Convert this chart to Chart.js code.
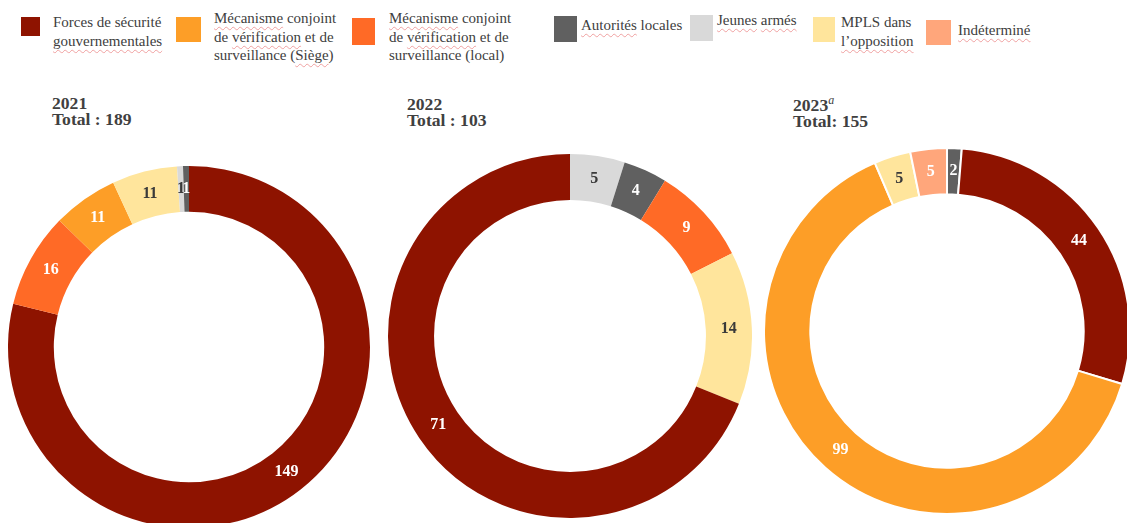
<!DOCTYPE html>
<html lang="fr">
<head>
<meta charset="utf-8">
<script src="https://cdn.jsdelivr.net/npm/chart.js@4.4.1/dist/chart.umd.min.js"></script>
<style>
    html, body { margin: 0; padding: 0; background: #fff; }
    body { width: 1127px; height: 523px; overflow: hidden; position: relative; font-family: "Liberation Serif", "Times New Roman", serif; color: #404040; }
    .swatch { position: absolute; }
    .ltext { position: absolute; font-size: 15px; line-height: 18.5px; white-space: nowrap; color: #404040; }
    .sp { text-decoration: underline wavy rgba(230, 95, 95, 0.55); text-decoration-thickness: 1px; text-underline-offset: 3px; text-decoration-skip-ink: none; }
    .title { position: absolute; font-size: 17.6px; font-weight: bold; line-height: 16px; color: #404040; }
    .title sup { font-style: italic; font-weight: normal; font-size: 12px; line-height: 0; }
    canvas { position: absolute; }
</style>
</head>
<body>

<div class="swatch" style="left:21px;top:17px;width:19px;height:19px;background:#8E1300"></div>
<div class="ltext" style="left:53px;top:13px">Forces de sécurité<br><span class="sp">gouvernementales</span></div>

<div class="swatch" style="left:176px;top:17px;width:25px;height:25px;background:#FD9E27"></div>
<div class="ltext" style="left:214px;top:9px"><span class="sp">Mécanisme</span> conjoint<br>de <span class="sp">vérification</span> et de<br>surveillance (<span class="sp">Siège</span>)</div>

<div class="swatch" style="left:352px;top:18px;width:23px;height:27px;background:#FF6A26"></div>
<div class="ltext" style="left:389px;top:9px"><span class="sp">Mécanisme</span> conjoint<br>de <span class="sp">vérification</span> et de<br>surveillance (local)</div>

<div class="swatch" style="left:554px;top:16px;width:23px;height:26px;background:#606060"></div>
<div class="ltext" style="left:581px;top:16px"><span class="sp">Autorités</span> locales</div>

<div class="swatch" style="left:690px;top:15px;width:23px;height:26px;background:#D9D9D9"></div>
<div class="ltext" style="left:717px;top:11px"><span class="sp">Jeunes</span> <span class="sp">armés</span></div>

<div class="swatch" style="left:813px;top:17px;width:22px;height:25px;background:#FFE59C"></div>
<div class="ltext" style="left:841px;top:13px">MPLS dans<br><span class="sp">l’opposition</span></div>

<div class="swatch" style="left:926px;top:20px;width:25px;height:25px;background:#FFA67B"></div>
<div class="ltext" style="left:958px;top:21px"><span class="sp">Indéterminé</span></div>

<div class="title" style="left:52px;top:95px">2021<br>Total : 189</div>
<div class="title" style="left:407px;top:96px">2022<br>Total : 103</div>
<div class="title" style="left:793px;top:97px">2023<sup>a</sup><br>Total: 155</div>

<canvas id="chart2021" width="362" height="362" style="left:8px;top:166px"></canvas>
<canvas id="chart2022" width="364" height="364" style="left:388px;top:154px"></canvas>
<canvas id="chart2023" width="368" height="368" style="left:763px;top:147px"></canvas>

<script>
// catégories (clés) et valeurs, dans l'ordre horaire depuis le haut
const categories = ["forces", "siege", "local", "autorites", "jeunes", "mpls", "indetermine"];

const slices2021 = ["forces", "local", "siege", "mpls", "jeunes", "autorites"];
const values2021 = [149, 16, 11, 11, 1, 1];

const slices2022 = ["jeunes", "autorites", "local", "mpls", "forces"];
const values2022 = [5, 4, 9, 14, 71];

const slices2023 = ["autorites", "forces", "siege", "mpls", "indetermine"];
const values2023 = [2, 44, 99, 5, 5];

const colors = {
    forces: "#8E1300",
    siege: "#FD9E27",
    local: "#FF6A26",
    autorites: "#606060",
    jeunes: "#D9D9D9",
    mpls: "#FFE59C",
    indetermine: "#FFA67B"
};

// texte sombre sur les couleurs claires, blanc sinon
const labelColors = {
    forces: "#ffffff",
    siege: "#ffffff",
    local: "#ffffff",
    autorites: "#ffffff",
    jeunes: "#3a3a3a",
    mpls: "#3a3a3a",
    indetermine: "#ffffff"
};

// petit plugin maison pour écrire les valeurs au milieu de chaque segment
const valueLabels = {
    id: "valueLabels",
    afterDatasetsDraw(chart) {
        const ctx = chart.ctx;
        const meta = chart.getDatasetMeta(0);
        const ds = chart.data.datasets[0];
        ctx.save();
        ctx.font = "bold 16px 'Liberation Serif', serif";
        ctx.textAlign = "center";
        ctx.textBaseline = "middle";
        meta.data.forEach((arc, i) => {
            const pos = arc.tooltipPosition();
            ctx.fillStyle = labelColors[ds.keys[i]];
            ctx.fillText(ds.data[i], pos.x, pos.y);
        });
        ctx.restore();
    }
};

function drawDonut(canvasId, keys, values, border) {
    const ctx = document.getElementById(canvasId).getContext("2d");
    return new Chart(ctx, {
        type: "doughnut",
        data: {
            labels: keys,
            datasets: [{
                data: values,
                keys: keys,
                backgroundColor: keys.map(k => colors[k]),
                borderColor: "#ffffff",
                borderWidth: border,
                offset: 0,
                hoverOffset: 0
            }]
        },
        options: {
            responsive: false,
            animation: false,
            cutout: "74.7%",
            rotation: 0,
            layout: { padding: 0 },
            plugins: {
                legend: { display: false },
                tooltip: { enabled: false }
            }
        },
        plugins: [valueLabels]
    });
}

drawDonut("chart2021", slices2021, values2021, 0);
drawDonut("chart2022", slices2022, values2022, 0);
drawDonut("chart2023", slices2023, values2023, 2);
</script>
</body>
</html>
